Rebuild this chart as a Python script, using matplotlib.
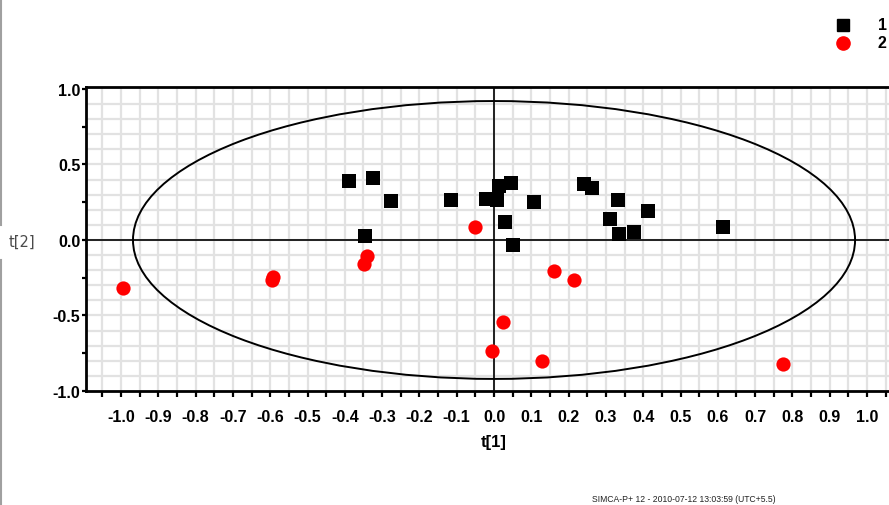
import matplotlib
matplotlib.use("Agg")
import matplotlib.pyplot as plt
from matplotlib.patches import Ellipse
from matplotlib.lines import Line2D
import numpy as np

# ---- data ----
group1_t1 = [-0.389, -0.324, -0.276, -0.346, -0.115, -0.022, 0.013, 0.045, 0.009, 0.030,
             0.052, 0.106, 0.240, 0.263, 0.332, 0.311, 0.336, 0.376, 0.413, 0.613]
group1_t2 = [0.388, 0.412, 0.255, 0.029, 0.267, 0.270, 0.358, 0.376, 0.263, 0.121,
             -0.033, 0.250, 0.374, 0.341, 0.263, 0.139, 0.042, 0.053, 0.192, 0.086]
group2_t1 = [-0.995, -0.593, -0.596, -0.341, -0.349, -0.051, 0.161, 0.215, 0.023, -0.006, 0.129, 0.774]
group2_t2 = [-0.316, -0.245, -0.268, -0.104, -0.158, 0.087, -0.203, -0.265, -0.546, -0.735, -0.801, -0.821]
legend_labels = ["1", "2"]
ellipse_semi_t1 = 0.968
ellipse_semi_t2 = 0.92
x_tick_labels = ["-1.0", "-0.9", "-0.8", "-0.7", "-0.6", "-0.5", "-0.4", "-0.3", "-0.2", "-0.1",
                 "0.0", "0.1", "0.2", "0.3", "0.4", "0.5", "0.6", "0.7", "0.8", "0.9", "1.0"]
y_tick_labels = ["-1.0", "-0.5", "0.0", "0.5", "1.0"]
footer = "SIMCA-P+ 12 - 2010-07-12 13:03:59 (UTC+5.5)"

W, H = 889, 506
fig = plt.figure(figsize=(W / 100, H / 100), dpi=100)
fig.patch.set_facecolor("white")

x0, x1 = -1.094, 1.059
y0, y1 = -1.0, 1.013
left_px, right_px, top_px, bot_px = 86, 889, 88, 392
ax = fig.add_axes([left_px / W, 1 - bot_px / H, (right_px - left_px) / W, (bot_px - top_px) / H])
ax.set_xlim(x0, x1)
ax.set_ylim(y0, y1)

# grid
for gx in np.arange(-1.05, 1.06, 0.05):
    ax.axvline(gx, color="#e2e2e2", lw=1.6, zorder=0)
for gy in np.arange(-0.9, 1.0, 0.1):
    ax.axhline(gy, color="#e2e2e2", lw=1.6, zorder=0)

ax.axhline(0, color="black", lw=1.2, zorder=1)
ax.axvline(0, color="black", lw=1.2, zorder=1)

ell = Ellipse((0, 0), 2 * ellipse_semi_t1, 2 * ellipse_semi_t2, fill=False,
              edgecolor="black", lw=1.4, zorder=2)
ax.add_patch(ell)

ax.scatter(group1_t1, group1_t2, marker="s", s=90, color="black", linewidths=0, zorder=3)
ax.scatter(group2_t1, group2_t2, marker="o", s=105, color="#ff0000", linewidths=0, zorder=3)

# spines
ax.spines["right"].set_visible(False)
for sp in ["left", "bottom", "top"]:
    ax.spines[sp].set_linewidth(2.0)
    ax.spines[sp].set_color("black")

tick_font = dict(family="Liberation Sans", weight="bold", size=11.5)
xt = np.round(np.arange(-1.0, 1.01, 0.1), 1)
ax.set_xticks(xt)
ax.set_xticklabels(x_tick_labels, fontdict=tick_font)
ax.set_xticks(np.round(np.arange(-1.05, 1.06, 0.1), 2), minor=True)
ax.set_yticks([-1.0, -0.5, 0.0, 0.5, 1.0])
ax.set_yticklabels(y_tick_labels, fontdict=tick_font)
ax.set_yticks([-0.75, -0.25, 0.25, 0.75], minor=True)
ax.tick_params(axis="x", which="both", direction="out", length=4, width=1.6, pad=9)
ax.tick_params(axis="y", which="both", direction="out", length=3, width=1.6, pad=1)

fig.text(494 / W, 1 - 443 / H, "t[1]", ha="center", va="center",
         family="Liberation Sans", weight="bold", size=12)
fig.text(22 / W, 1 - 242 / H, "t[2]", ha="center", va="center",
         family="DejaVu Sans", size=10.5, color="#4a4a4a")

# left window border line
fig.add_artist(Line2D([1 / W, 1 / W], [1 - 0 / H, 1 - 226 / H], color="#a0a0a0", lw=1.5))
fig.add_artist(Line2D([1 / W, 1 / W], [1 - 261 / H, 0], color="#a0a0a0", lw=1.5))

# legend
fig.add_artist(Line2D([843 / W], [1 - 26 / H], marker="s", markersize=8.5,
                      color="black", linestyle="none"))
fig.add_artist(Line2D([843 / W], [1 - 44 / H], marker="o", markersize=9.5,
                      color="#ff0000", linestyle="none"))
fig.text(878 / W, 1 - 26 / H, legend_labels[0], ha="left", va="center",
         family="Liberation Sans", weight="bold", size=11.5)
fig.text(878 / W, 1 - 44 / H, legend_labels[1], ha="left", va="center",
         family="Liberation Sans", weight="bold", size=11.5)

fig.text(592 / W, 1 - 500 / H, footer, ha="left", va="center",
         family="Liberation Sans", size=6.2, color="#222222")

fig.savefig("out.png", dpi=100)
